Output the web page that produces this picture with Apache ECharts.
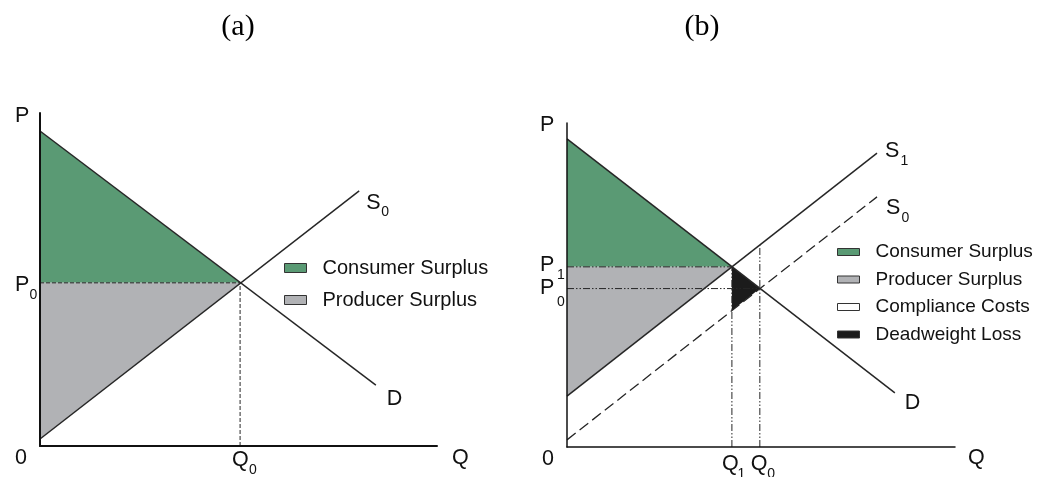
<!DOCTYPE html>
<html><head><meta charset="utf-8">
<script src="https://cdn.jsdelivr.net/npm/echarts@6/dist/echarts.min.js"></script>
<style>html,body{margin:0;padding:0;background:#fff}#c{width:1038px;height:477px}</style>
</head><body><div id="c"></div><script>
// ================= DATA =================
const PANEL_TITLES = ['(a)', '(b)'];
const LEGEND_A = ['Consumer Surplus', 'Producer Surplus'];
const LEGEND_B = ['Consumer Surplus', 'Producer Surplus', 'Compliance Costs', 'Deadweight Loss'];

// panel (a): demand D and supply S0 (Q, P) end points, equilibrium
const A_DEMAND = [[0, 94.6], [84.6, 18.3]];
const A_SUPPLY0 = [[0, 2.1], [80.4, 76.6]];
const A_Q0 = 50.4;
const A_P0 = 49.0;

// panel (b): demand D, supply S1 (with compliance costs), supply S0
const B_DEMAND = [[0, 95.1], [84.5, 16.7]];
const B_SUPPLY1 = [[0, 15.7], [79.9, 90.7]];
const B_SUPPLY0 = [[0, 2.2], [79.9, 77.2]];
const B_Q1 = 42.5;
const B_P1 = 55.6;
const B_Q0 = 49.7;
const B_P0 = 48.9;
const B_S0_AT_Q1 = 42.1;
const B_S1_AT_Q0 = 62.3;

// label texts [main, subscript]
const A_LABEL_TEXT = [['P', ''], ['P', '0'], ['0', ''], ['Q', '0'], ['Q', ''], ['S', '0'], ['D', '']];
const B_LABEL_TEXT = [['P', ''], ['P', '1'], ['P', '0'], ['0', ''], ['Q', '1'], ['Q', '0'], ['Q', ''], ['S', '1'], ['S', '0'], ['D', '']];

// ================= STYLE / LAYOUT =================
const COLORS = { cs: '#5a9a74', ps: '#b1b2b5', cc: '#ffffff', dwl: '#1b1b1b', line: '#262626', axis: '#111111', text: '#111111' };
const SANS = 'Liberation Sans, Arial, sans-serif';
const GRIDS = [
  { left: 40, top: 113, width: 397, height: 333 },
  { left: 567, top: 123, width: 388, height: 324 }
];
const TITLE_X = [238, 702];
// label offsets in px from anchor: [mainDx, mainDy, subDx, subDy]
const A_LABEL_OFF = [[-25, 3], [-25, 2, -10.5, 12], [-25, 12], [-8, 14, 9, 24], [15, 12], [7, 12.5, 22, 21], [11, 14.5]];
const B_LABEL_OFF = [[-27, 2], [-27, -2, -10, 8], [-27, 0, -10, 14], [-25, 12.5], [-10, 17, 5.5, 27], [-9, 17, 7.5, 27], [13, 11.5], [8, -2.5, 23.5, 8], [9, 11, 24.5, 21], [10, 10.5]];

// anchors derived from data
const A_LABEL_ANCHOR = [[0, 100], [0, A_P0], [0, 0], [A_Q0, 0], [100, 0], A_SUPPLY0[1], A_DEMAND[1]];
const B_LABEL_ANCHOR = [[0, 100], [0, B_P1], [0, B_P0], [0, 0], [B_Q1, 0], [B_Q0, 0], [100, 0], B_SUPPLY1[1], B_SUPPLY0[1], B_DEMAND[1]];

function polySeries(gi, name, pts, color) {
  return {
    type: 'custom', name: name, xAxisIndex: gi, yAxisIndex: gi, silent: true, z: 1,
    itemStyle: { color: color }, data: pts,
    renderItem: function (params, api) {
      if (params.dataIndex !== 0) return null;
      return { type: 'polygon', shape: { points: pts.map(function (q) { return api.coord(q); }) }, style: { fill: color, stroke: null } };
    }
  };
}
function lineSeries(gi, pts, width, dash, z) {
  return {
    type: 'line', xAxisIndex: gi, yAxisIndex: gi, data: pts, symbol: 'none', silent: true, z: z,
    lineStyle: { color: COLORS.line, width: width, type: dash || 'solid' }
  };
}
function labelSeries(gi, texts, anchors, offs) {
  return {
    type: 'custom', xAxisIndex: gi, yAxisIndex: gi, silent: true, z: 10, data: anchors,
    renderItem: function (params, api) {
      const i = params.dataIndex;
      const p = api.coord([api.value(0), api.value(1)]);
      const o = offs[i];
      const ch = [{ type: 'text', x: p[0] + o[0], y: p[1] + o[1],
        style: { text: texts[i][0], fontFamily: SANS, fontSize: 21.5, fill: COLORS.text, align: 'left', verticalAlign: 'middle' } }];
      if (texts[i][1]) ch.push({ type: 'text', x: p[0] + o[2], y: p[1] + o[3],
        style: { text: texts[i][1], fontFamily: SANS, fontSize: 14, fill: COLORS.text, align: 'left', verticalAlign: 'middle' } });
      return { type: 'group', children: ch };
    }
  };
}
function axis(gi, w) {
  return { gridIndex: gi, type: 'value', min: 0, max: 100, z: 5,
    axisLine: { show: true, onZero: false, lineStyle: { color: COLORS.axis, width: w } },
    axisTick: { show: false }, axisLabel: { show: false }, splitLine: { show: false } };
}
function legend(names, left, top, ih, gap, fs) {
  return { data: names, orient: 'vertical', left: left, top: top, icon: 'rect', itemWidth: 22, itemHeight: ih, itemGap: gap,
    padding: 0, selectedMode: false, itemStyle: { borderColor: '#333', borderWidth: 1 },
    textStyle: { fontFamily: SANS, fontSize: fs, color: COLORS.text, lineHeight: 20, padding: [0, 0, 0, 11] } };
}

const DASH_FINE = [4, 2];
const DASH_DOTDOT = [7, 2, 1.5, 2, 1.5, 2];
const DASH_LONG = [11, 5];

const series = [
  // ---- panel (a) ----
  polySeries(0, 'Consumer Surplus', [A_DEMAND[0], [A_Q0, A_P0], [0, A_P0]], COLORS.cs),
  polySeries(0, 'Producer Surplus', [[0, A_P0], [A_Q0, A_P0], A_SUPPLY0[0]], COLORS.ps),
  lineSeries(0, [[0, A_P0], [A_Q0, A_P0]], 1, DASH_FINE, 3),
  lineSeries(0, [[A_Q0, 0], [A_Q0, A_P0]], 1, DASH_FINE, 3),
  lineSeries(0, A_DEMAND, 1.5, 'solid', 4),
  lineSeries(0, A_SUPPLY0, 1.5, 'solid', 4),
  labelSeries(0, A_LABEL_TEXT, A_LABEL_ANCHOR, A_LABEL_OFF),
  // ---- panel (b) ----
  polySeries(1, 'Consumer Surplus', [B_DEMAND[0], [B_Q1, B_P1], [0, B_P1]], COLORS.cs),
  polySeries(1, 'Producer Surplus', [[0, B_P1], [B_Q1, B_P1], B_SUPPLY1[0]], COLORS.ps),
  polySeries(1, 'Compliance Costs', [B_SUPPLY1[0], [B_Q1, B_P1], [B_Q1, B_S0_AT_Q1], B_SUPPLY0[0]], COLORS.cc),
  polySeries(1, 'Deadweight Loss', [[B_Q1, B_P1], [B_Q0, B_P0], [B_Q1, B_S0_AT_Q1]], COLORS.dwl),
  lineSeries(1, [[0, B_P1], [B_Q1, B_P1]], 1, DASH_DOTDOT, 3),
  lineSeries(1, [[0, B_P0], [B_Q0, B_P0]], 1, DASH_DOTDOT, 3),
  lineSeries(1, [[B_Q1, 0], [B_Q1, B_P1]], 1, DASH_DOTDOT, 3),
  lineSeries(1, [[B_Q0, 0], [B_Q0, B_S1_AT_Q0]], 1, DASH_DOTDOT, 3),
  lineSeries(1, B_DEMAND, 1.5, 'solid', 4),
  lineSeries(1, B_SUPPLY1, 1.5, 'solid', 4),
  lineSeries(1, B_SUPPLY0, 1.3, DASH_LONG, 4),
  labelSeries(1, B_LABEL_TEXT, B_LABEL_ANCHOR, B_LABEL_OFF)
];

const chart = echarts.init(document.getElementById('c'), null, { renderer: 'canvas' });
chart.setOption({
  backgroundColor: '#ffffff',
  animation: false,
  title: PANEL_TITLES.map(function (t, i) {
    return { text: t, left: TITLE_X[i], top: 12, padding: 0, textAlign: 'center',
      textStyle: { fontFamily: 'Liberation Serif, Times New Roman, serif', fontSize: 30, fontWeight: 'normal', color: '#000', lineHeight: 30 } };
  }),
  legend: [legend(LEGEND_A, 284, 258, 9, 12, 20), legend(LEGEND_B, 837, 242, 7, 7.5, 19)],
  grid: GRIDS,
  xAxis: [axis(0, 2), axis(1, 1.5)],
  yAxis: [axis(0, 2), axis(1, 1.5)],
  series: series
});
</script></body></html>
